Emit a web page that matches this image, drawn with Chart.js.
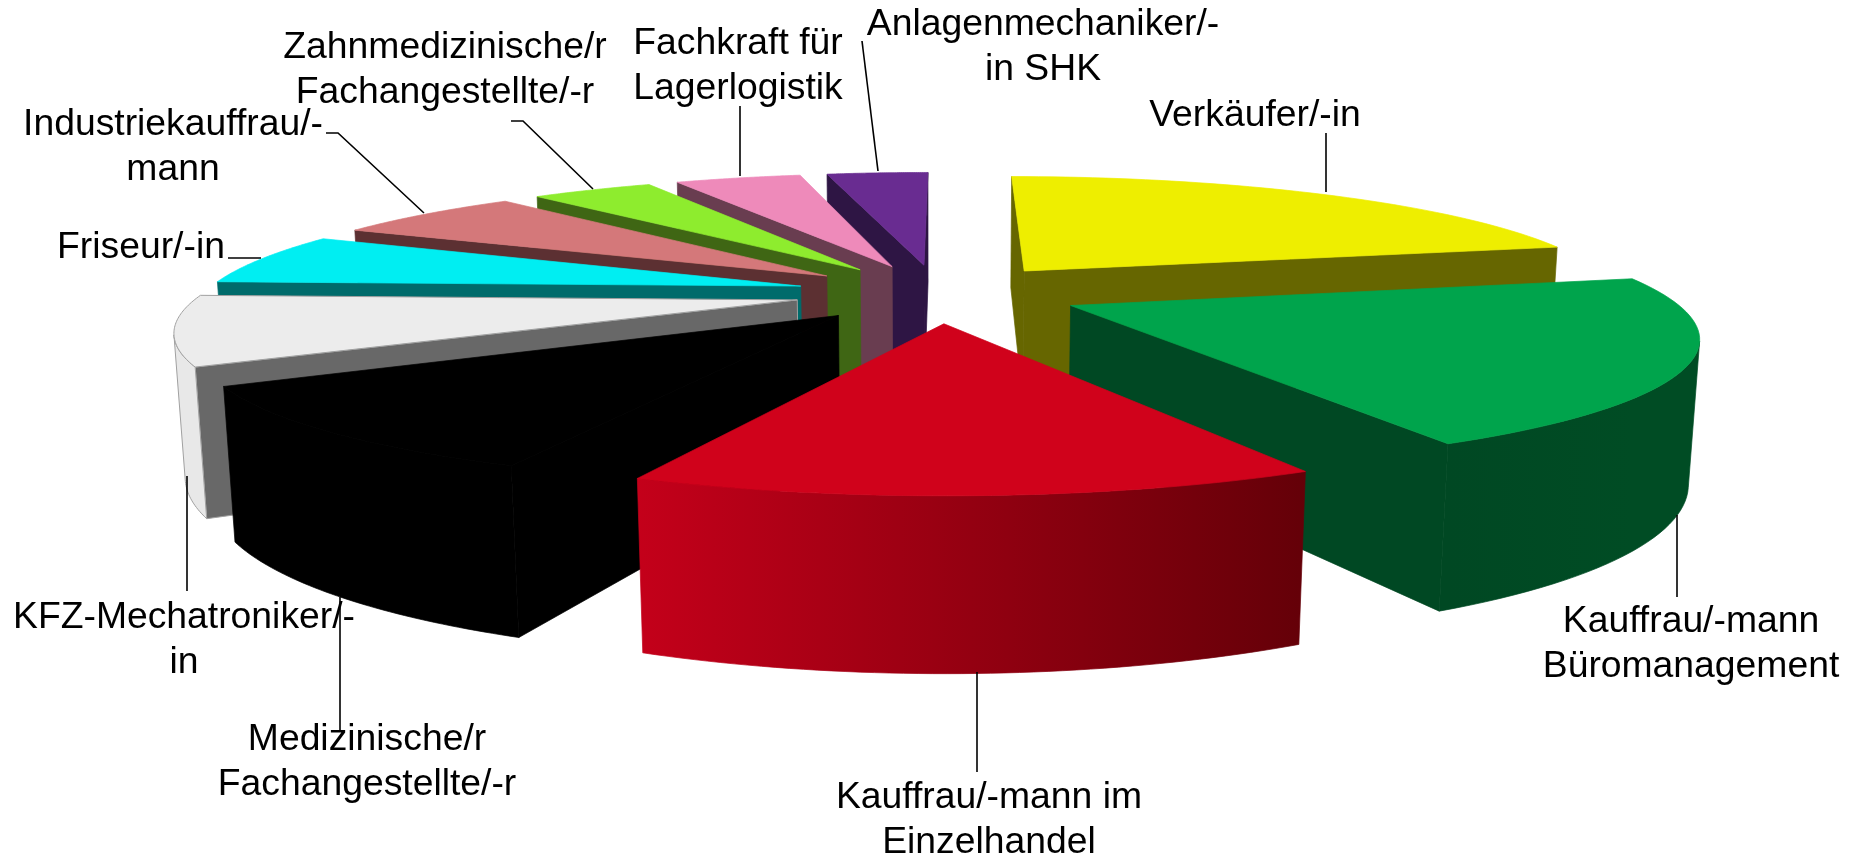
<!DOCTYPE html>
<html>
<head>
<meta charset="utf-8">
<style>
  html, body { margin: 0; padding: 0; background: #fff; }
  canvas { display: block; }
</style>
<script src="https://cdn.jsdelivr.net/npm/chart.js@4"></script>
</head>
<body>
<canvas id="berufePie" width="1858" height="854"></canvas>
<script>
const categories = [
  "Verkäufer/-in",
  "Kauffrau/-mann Büromanagement",
  "Kauffrau/-mann im Einzelhandel",
  "Medizinische/r Fachangestellte/-r",
  "KFZ-Mechatroniker/-in",
  "Friseur/-in",
  "Industriekauffrau/-mann",
  "Zahnmedizinische/r Fachangestellte/-r",
  "Fachkraft für Lagerlogistik",
  "Anlagenmechaniker/-in SHK",
];
const shares = [21.41, 20.84, 14.14, 10.51, 8.63, 6.52, 6.28, 4.06, 4.22, 3.39];
const topColors = ["#eeee00", "#00a44c", "#d0021b", "#000000", "#ececec", "#00eef2", "#d4787a", "#8eec2e", "#ee8aba", "#692c91"];
const sideColors = ["#666600", "#004823", "#640008", "#000000", "#686868", "#006b6b", "#5c3032", "#3f6614", "#693d50", "#2e1544"];
// rim colour at the start and end of each slice, going clockwise
const rimFrom = ["#666600", "#004c24", "#640008", "#000000", "#e8e8e8", "#006b6b", "#5c3032", "#3f6614", "#693d50", "#2e1544"];
const rimTo = ["#666600", "#004823", "#c4001a", "#000000", "#e8e8e8", "#006b6b", "#5c3032", "#3f6614", "#693d50", "#2e1544"];
// only the pale slice has a visible edge line
const edgeColors = [null, null, null, null, "#a0a0a0", null, null, null, null, null];

const labelLines = [
  ["Verkäufer/-in"],
  ["Kauffrau/-mann", "Büromanagement"],
  ["Kauffrau/-mann im", "Einzelhandel"],
  ["Medizinische/r", "Fachangestellte/-r"],
  ["KFZ-Mechatroniker/-", "in"],
  ["Friseur/-in"],
  ["Industriekauffrau/-", "mann"],
  ["Zahnmedizinische/r", "Fachangestellte/-r"],
  ["Fachkraft für", "Lagerlogistik"],
  ["Anlagenmechaniker/-", "in SHK"],
];
const labelAnchors = [
  [1255, 126], [1691, 632], [989, 808], [367, 750], [184, 628],
  [141, 258], [173, 135], [445, 58], [738, 54], [1043, 35],
];
const leaders = [
  [[1326, 133], [1326, 192]],
  [[1677, 515], [1677, 597]],
  [[977, 672], [977, 772]],
  [[340, 597], [340, 732]],
  [[187, 476], [187, 591]],
  [[228, 258], [261, 258]],
  [[326, 133], [338, 133], [424, 213]],
  [[511, 121], [523, 121], [593, 189]],
  [[740, 106], [740, 176]],
  [[862, 41], [878, 171]],
];

// camera of the tilted pie
const view = { cx: 938, cy: 293, sx: 596, sy: 122, persp: 0.205, height: 138, taper: 0.014, explode: 0.24 };

function project(x, y, z) {
  const w = 1 - view.persp * y + view.taper * z;
  return [view.cx + view.sx * x / w, view.cy + view.sy * y / w + view.height * z / w];
}

function fillPoly(ctx, pts, color, edge) {
  ctx.beginPath();
  pts.forEach((p, i) => (i ? ctx.lineTo(p[0], p[1]) : ctx.moveTo(p[0], p[1])));
  ctx.closePath();
  ctx.fillStyle = color;
  ctx.fill();
  // same colour hairline closes the seams between faces
  ctx.strokeStyle = edge || color;
  ctx.lineWidth = edge ? 1 : 0.7;
  ctx.stroke();
}

function area(pts) {
  let sum = 0;
  pts.forEach((p, i) => {
    const q = pts[(i + 1) % pts.length];
    sum += p[0] * q[1] - q[0] * p[1];
  });
  return sum;
}

function wallQuad(p, q) {
  return [project(p[0], p[1], 0), project(q[0], q[1], 0), project(q[0], q[1], 1), project(p[0], p[1], 1)];
}

function drawSlice(ctx, arc, i) {
  const start = arc.startAngle + Math.PI / 2, end = arc.endAngle + Math.PI / 2;
  const mid = (start + end) / 2;
  const ox = Math.sin(mid) * view.explode, oy = -Math.cos(mid) * view.explode;
  const steps = 48;
  const tip = [ox, oy];
  const rim = [];
  for (let k = 0; k <= steps; k++) {
    const a = start + (end - start) * k / steps;
    rim.push([ox + Math.sin(a), oy - Math.cos(a)]);
  }

  // straight cut faces, only when they look at the camera
  [[tip, rim[0]], [rim[steps], tip]].forEach(([p, q]) => {
    const quad = wallQuad(p, q);
    if (area(quad) < 0) fillPoly(ctx, quad, sideColors[i], edgeColors[i]);
  });

  // outer wall: one polygon over the visible run of the rim
  const seen = [];
  for (let k = 0; k < steps; k++) {
    if (area(wallQuad(rim[k], rim[k + 1])) < 0) {
      if (!seen.length) seen.push(rim[k]);
      seen.push(rim[k + 1]);
    }
  }
  if (seen.length) {
    const upper = seen.map((p) => project(p[0], p[1], 0));
    const lower = seen.map((p) => project(p[0], p[1], 1)).reverse();
    const a = project(rim[0][0], rim[0][1], 0), b = project(rim[steps][0], rim[steps][1], 0);
    const grad = ctx.createLinearGradient(a[0], 0, b[0], 0);
    grad.addColorStop(0, rimFrom[i]);
    grad.addColorStop(1, rimTo[i]);
    fillPoly(ctx, upper.concat(lower), grad, edgeColors[i]);
  }

  const top = [tip].concat(rim).map((p) => project(p[0], p[1], 0));
  fillPoly(ctx, top, topColors[i], edgeColors[i]);
}

const pie3d = {
  id: "pie3d",
  beforeDatasetsDraw(chart) {
    const ctx = chart.ctx;
    const arcs = chart.getDatasetMeta(0).data;
    const depth = (arc) => -Math.cos((arc.startAngle + arc.endAngle) / 2 + Math.PI / 2);
    const order = arcs.map((arc, i) => i).sort((a, b) => depth(arcs[a]) - depth(arcs[b]));
    ctx.save();
    order.forEach((i) => drawSlice(ctx, arcs[i], i));
    ctx.strokeStyle = "#000";
    ctx.lineWidth = 1.6;
    leaders.forEach((line) => {
      ctx.beginPath();
      line.forEach((p, k) => (k ? ctx.lineTo(p[0], p[1]) : ctx.moveTo(p[0], p[1])));
      ctx.stroke();
    });
    ctx.fillStyle = "#000";
    ctx.font = '37.3px "Liberation Sans"';
    ctx.textAlign = "center";
    labelLines.forEach((lines, i) => {
      lines.forEach((text, k) => ctx.fillText(text, labelAnchors[i][0], labelAnchors[i][1] + k * 44.5));
    });
    ctx.restore();
    return false;
  },
};

new Chart(document.getElementById("berufePie"), {
  type: "pie",
  data: {
    labels: categories,
    datasets: [{ data: shares, backgroundColor: topColors }],
  },
  options: {
    responsive: false,
    animation: false,
    rotation: 0.2,
    plugins: { legend: { display: false }, tooltip: { enabled: false } },
  },
  plugins: [pie3d],
});
</script>
</body>
</html>
